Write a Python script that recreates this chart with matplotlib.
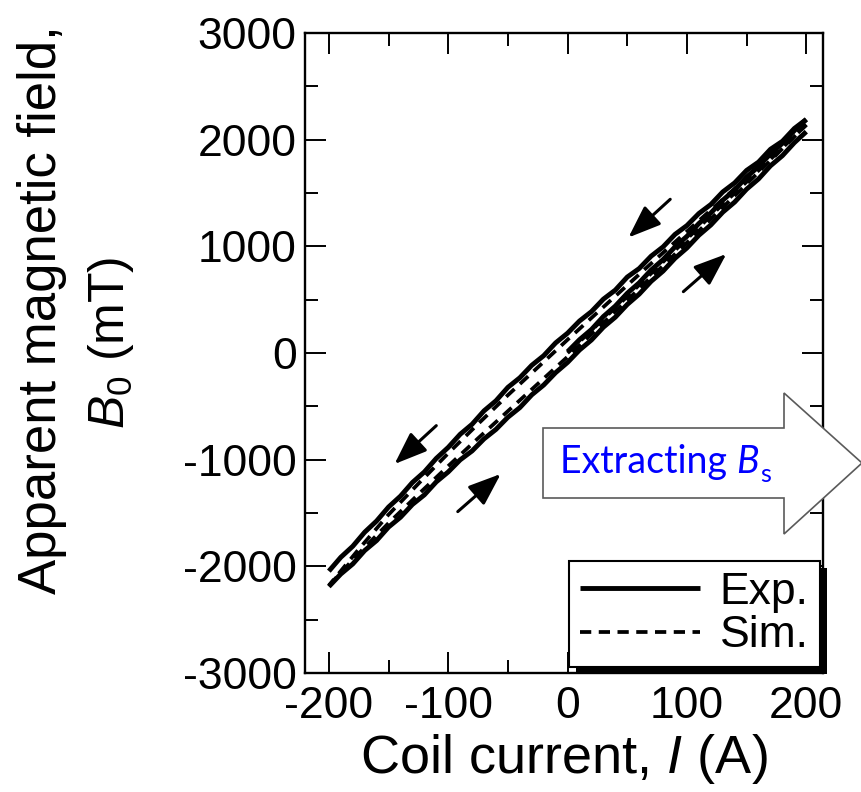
import matplotlib
matplotlib.use("Agg")
import matplotlib.pyplot as plt
from matplotlib.patches import Polygon, Rectangle
from matplotlib.ticker import MultipleLocator
from matplotlib.transforms import IdentityTransform

plt.rcParams['font.family'] = ['Liberation Sans', 'DejaVu Sans']
plt.rcParams['mathtext.fontset'] = 'custom'
plt.rcParams['mathtext.rm'] = 'Liberation Sans'
plt.rcParams['mathtext.it'] = 'Liberation Sans:italic'
plt.rcParams['axes.unicode_minus'] = False

# ---- measured loop (A, mT) ----
exp_desc_I = [200, 190, 180, 170, 160, 150, 140, 130, 120, 110, 100, 90, 80, 70, 60, 50,
              40, 30, 20, 10, 0, -10, -20, -30, -40, -50, -60, -70, -80, -90, -100,
              -110, -120, -130, -140, -150, -160, -170, -180, -190, -200]
exp_desc_B = [2190, 2105, 1985, 1910, 1790, 1712, 1595, 1510, 1392, 1308, 1195, 1112, 995,
              908, 792, 712, 590, 505, 388, 300, 186, 95, -25, -115, -232, -322, -448,
              -542, -668, -762, -885, -988, -1115, -1214, -1342, -1444, -1575, -1680,
              -1812, -1915, -2045]

exp_asc_I = [-200, -190, -180, -170, -160, -150, -140, -130, -120, -110, -100, -90, -80,
             -70, -60, -50, -40, -30, -20, -10, 0, 10, 20, 30, 40, 50, 60, 70, 80, 90,
             100, 110, 120, 130, 140, 150, 160, 170, 180, 190, 200]
exp_asc_B = [-2190, -2072, -1978, -1852, -1758, -1632, -1540, -1420, -1330, -1208, -1115,
             -1002, -918, -805, -716, -602, -512, -392, -300, -184, -88, 28, 122, 242, 336,
             455, 552, 672, 768, 888, 985, 1104, 1200, 1320, 1415, 1536, 1632, 1755, 1850,
             1972, 2075]

exp_init_I = [0, 10, 20, 30, 40, 50, 60, 70, 80, 90, 100, 110, 120, 130, 140, 150, 160,
              170, 180, 190, 200]
exp_init_B = [12, 125, 220, 342, 440, 560, 658, 778, 876, 995, 1094, 1214, 1312, 1432,
              1530, 1650, 1748, 1868, 1966, 2085, 2190]

# ---- simulated loop (A, mT) ----
sim_desc_I = [200, 175, 150, 125, 100, 75, 50, 25, 0, -25, -50, -75, -100, -125, -150, -175, -200]
sim_desc_B = [2140, 1890, 1640, 1390, 1140, 890, 635, 380, 125, -135, -395, -665, -940,
              -1225, -1515, -1840, -2180]
sim_asc_I = [-200, -175, -150, -125, -100, -75, -50, -25, 0, 25, 50, 75, 100, 125, 150, 175, 200]
sim_asc_B = [-2180, -1880, -1595, -1325, -1060, -800, -545, -290, -35, 230, 495, 765,
             1035, 1310, 1585, 1860, 2140]
sim_init_I = [0, 25, 50, 75, 100, 125, 150, 175, 200]
sim_init_B = [0, 265, 530, 800, 1070, 1340, 1605, 1870, 2140]

x_ticks = [-200, -100, 0, 100, 200]
y_ticks = [-3000, -2000, -1000, 0, 1000, 2000, 3000]
x_ticklabels = ['-200', '-100', '0', '100', '200']
y_ticklabels = ['-3000', '-2000', '-1000', '0', '1000', '2000', '3000']

# sweep-direction arrows: (tail, head) in (A, mT)
sweep_arrows = [((86, 1441), (51, 1083)),
                ((97, 575), (133, 928)),
                ((-110, -681), (-145, -1041)),
                ((-92, -1487), (-56, -1134))]

W, H = 862, 792
fig = plt.figure(figsize=(W / 100, H / 100), dpi=100)
ax = fig.add_axes([305 / W, 1 - 673 / H, (823 - 305) / W, (673 - 33) / H])

exp_kw = dict(color='black', lw=3.5, solid_capstyle='butt', solid_joinstyle='round')
sim_kw = dict(color='black', lw=2.7, linestyle=(0, (3.0, 2.0)), dash_capstyle='butt')

l_exp, = ax.plot(exp_desc_I, exp_desc_B, **exp_kw)
ax.plot(exp_asc_I, exp_asc_B, **exp_kw)
ax.plot(exp_init_I, exp_init_B, **exp_kw)
l_sim, = ax.plot(sim_desc_I, sim_desc_B, **sim_kw)
ax.plot(sim_asc_I, sim_asc_B, **sim_kw)
ax.plot(sim_init_I, sim_init_B, **sim_kw)

for tail, head in sweep_arrows:
    ax.annotate('', xy=head, xytext=tail,
                arrowprops=dict(arrowstyle='-|>,head_length=1.0,head_width=0.38',
                                mutation_scale=20, color='black', lw=2.2,
                                shrinkA=0, shrinkB=0))

ax.set_xlim(-220, 214)
ax.set_ylim(-3000, 3000)
ax.set_xticks(x_ticks)
ax.set_xticklabels(x_ticklabels)
ax.set_yticks(y_ticks)
ax.set_yticklabels(y_ticklabels)
ax.xaxis.set_minor_locator(MultipleLocator(50))
ax.yaxis.set_minor_locator(MultipleLocator(500))
ax.tick_params(which='both', direction='in', top=True, right=True, width=1.4,
               labelsize=32, colors='black')
ax.tick_params(which='major', length=15)
ax.tick_params(which='minor', length=9.5)
ax.tick_params(axis='y', pad=6)
ax.tick_params(axis='x', pad=9)
for s in ax.spines.values():
    s.set_linewidth(1.7)

ax.set_xlabel('Coil current, $I$ (A)', fontsize=39, labelpad=4)
fig.text(42 / W, 1 - 310 / H, 'Apparent magnetic field,', rotation=90,
         ha='center', va='center', fontsize=38)
fig.text(111 / W, 1 - 343 / H, '$B_0$ (mT)', rotation=90,
         ha='center', va='center', fontsize=36)

leg = ax.legend([l_exp, l_sim], ['Exp.', 'Sim.'], loc='lower right',
                bbox_to_anchor=(0.994, 0.009), borderaxespad=0, fontsize=32,
                frameon=True, fancybox=False, edgecolor='black', framealpha=1,
                handlelength=2.7, handletextpad=0.45, borderpad=0.25,
                labelspacing=0.05)
leg.get_frame().set_linewidth(1.5)

# block arrow with caption, drawn above the frame
blk = [(543, 428), (784, 428), (784, 393), (862, 463), (784, 534), (784, 498), (543, 498)]
ax.add_artist(Polygon([(x / W, 1 - y / H) for x, y in blk], closed=True,
                      transform=fig.transFigure, facecolor='white',
                      edgecolor='#5a5a5a', lw=1.2, zorder=6, clip_on=False))
t1 = ax.annotate('Extracting ', xy=(560 / W, 1 - 473 / H), xycoords='figure fraction',
                 fontsize=27, color='blue', family='Lato', va='baseline', ha='left',
                 annotation_clip=False, zorder=7)
tb = ax.annotate('B', xy=(1, 0), xycoords=t1, va='bottom', ha='left', fontsize=27,
                 color='blue', family='Lato', style='italic', annotation_clip=False,
                 zorder=7)
ts = ax.annotate('s', xy=(1, 0), xycoords=tb, xytext=(0.5, -1.5),
                 textcoords='offset points', va='baseline', ha='left', fontsize=18,
                 color='blue', family='Lato', annotation_clip=False, zorder=7)

fig.canvas.draw()
bb = leg.get_window_extent()
shadow = Rectangle((bb.x0 + 7, bb.y0 - 7), bb.width, bb.height,
                   transform=IdentityTransform(), facecolor='black', edgecolor='none',
                   zorder=leg.get_zorder() - 0.1, clip_on=False)
ax.add_artist(shadow)
shadow.set_clip_on(False)

fig.savefig('out.png', dpi=100)
